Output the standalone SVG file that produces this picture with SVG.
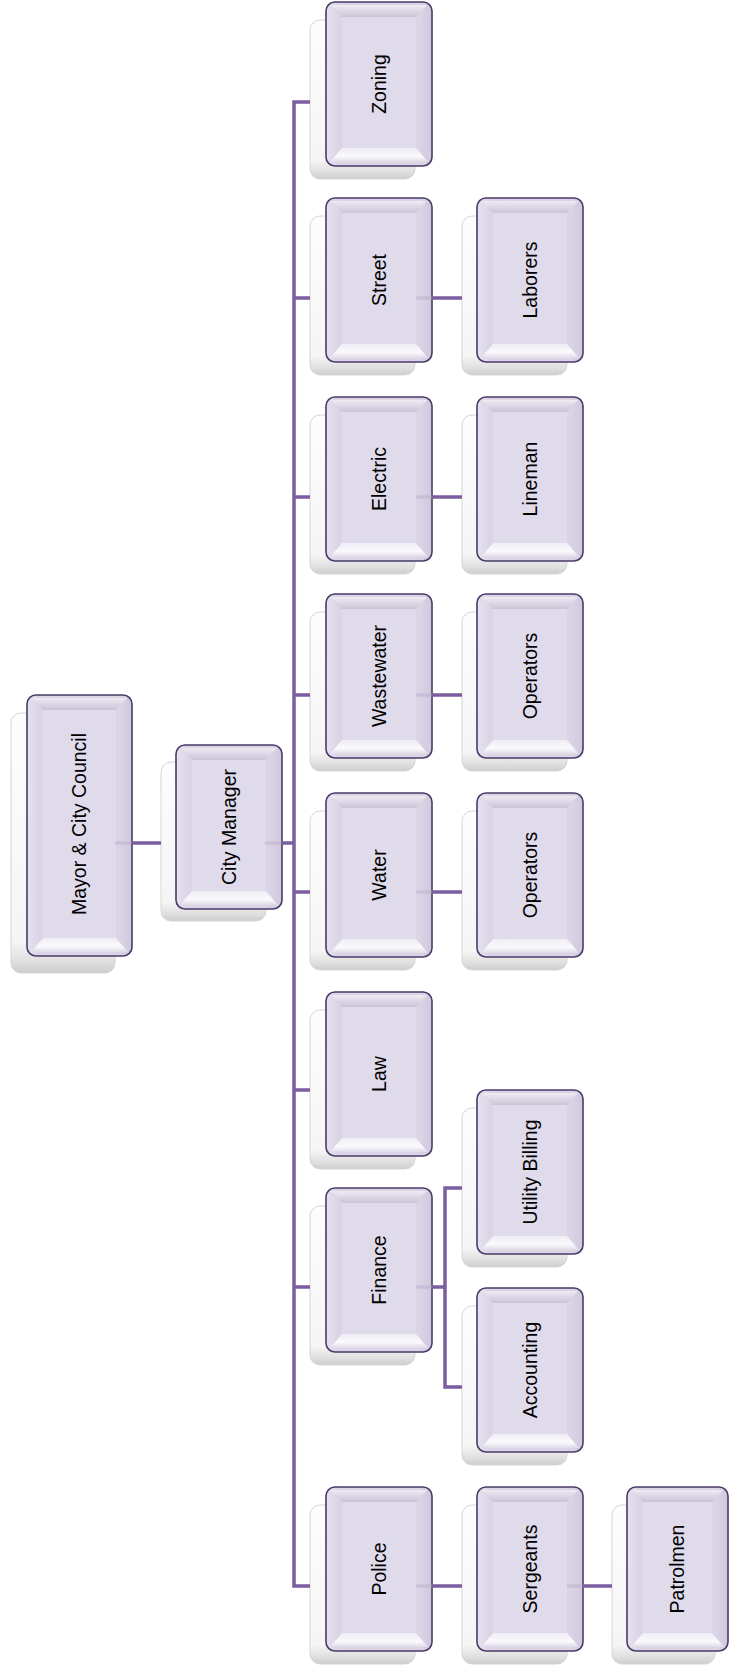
<svg xmlns="http://www.w3.org/2000/svg" xmlns:xlink="http://www.w3.org/1999/xlink" width="730" height="1673" viewBox="0 0 730 1673">
<style>
.lbl{font-family:"Liberation Sans",Arial,sans-serif;font-size:19.5px;fill:#000;text-anchor:middle}
.con{fill:none;stroke:#7b5e9f;stroke-width:3.5;stroke-linejoin:miter;stroke-linecap:butt}
.faint{fill:none;stroke:#b3a5c9;stroke-opacity:0.4;stroke-width:3.5}
.fo{fill:url(#gFront);stroke:#4a3a68;stroke-width:1.6}
.tb{fill:url(#gTop)}
.bb{fill:url(#gBot)}
.fc{fill:#e0dbeb}
.so{fill:url(#gShadow);stroke:#d6d6d6;stroke-width:1}
</style>
<defs>
<linearGradient id="gFront" x1="0" y1="0" x2="1" y2="0">
<stop offset="0" stop-color="#e6e2ee"/><stop offset="0.12" stop-color="#dad4e6"/><stop offset="0.88" stop-color="#dad4e6"/><stop offset="1" stop-color="#d0c9dd"/>
</linearGradient>
<linearGradient id="gTop" x1="0" y1="0" x2="0" y2="1">
<stop offset="0" stop-color="#eeebf3"/><stop offset="1" stop-color="#cac3d6"/>
</linearGradient>
<linearGradient id="gBot" x1="0" y1="0" x2="0" y2="1">
<stop offset="0" stop-color="#efedf5"/><stop offset="0.6" stop-color="#faf9fc"/><stop offset="1" stop-color="#dfdae8"/>
</linearGradient>
<linearGradient id="gShadow" x1="0" y1="0" x2="0" y2="1">
<stop offset="0" stop-color="#fdfdfd"/><stop offset="0.88" stop-color="#f5f5f5"/><stop offset="0.96" stop-color="#dedede"/><stop offset="1" stop-color="#cdcdcd"/>
</linearGradient>
<g id="shadowBox">
<rect class="so" x="0" y="0" width="105" height="159" rx="10"/>
</g>
<g id="frontBox">
<rect class="fo" x="0" y="0" width="106" height="164" rx="9"/>
<polygon class="tb" points="5,3 101,3 90,15 16,15"/>
<polygon class="bb" points="16,146 90,146 102,160 4,160"/>
<rect class="fc" x="16" y="15" width="74" height="131"/>
</g>
</defs>

<g id="mayor">
<rect class="so" x="11" y="713" width="104" height="260" rx="10"/>
<rect class="fo" x="27" y="695" width="105" height="261" rx="9"/>
<polygon class="tb" points="32,698 127,698 116,710 43,710"/>
<polygon class="bb" points="43,938 116,938 128,952 31,952"/>
<rect class="fc" x="43" y="710" width="73" height="228"/>
<text class="lbl" transform="translate(79,824) rotate(-90)" dy="0.35em">Mayor &amp; City Council</text>
</g>

<g id="city-manager">
<use xlink:href="#shadowBox" x="161" y="762"/>
<use xlink:href="#frontBox" x="176" y="745"/>
<text class="lbl" transform="translate(229,827) rotate(-90)" dy="0.35em">City Manager</text>
</g>

<g id="zoning">
<use xlink:href="#shadowBox" x="310" y="20"/>
<use xlink:href="#frontBox" x="326" y="2"/>
<text class="lbl" transform="translate(379,84) rotate(-90)" dy="0.35em">Zoning</text>
</g>
<g id="street">
<use xlink:href="#shadowBox" x="310" y="216"/>
<use xlink:href="#frontBox" x="326" y="198"/>
<text class="lbl" transform="translate(379,280) rotate(-90)" dy="0.35em">Street</text>
</g>
<g id="electric">
<use xlink:href="#shadowBox" x="310" y="415"/>
<use xlink:href="#frontBox" x="326" y="397"/>
<text class="lbl" transform="translate(379,479) rotate(-90)" dy="0.35em">Electric</text>
</g>
<g id="wastewater">
<use xlink:href="#shadowBox" x="310" y="612"/>
<use xlink:href="#frontBox" x="326" y="594"/>
<text class="lbl" transform="translate(379,676) rotate(-90)" dy="0.35em">Wastewater</text>
</g>
<g id="water">
<use xlink:href="#shadowBox" x="310" y="811"/>
<use xlink:href="#frontBox" x="326" y="793"/>
<text class="lbl" transform="translate(379,875) rotate(-90)" dy="0.35em">Water</text>
</g>
<g id="law">
<use xlink:href="#shadowBox" x="310" y="1010"/>
<use xlink:href="#frontBox" x="326" y="992"/>
<text class="lbl" transform="translate(379,1074) rotate(-90)" dy="0.35em">Law</text>
</g>
<g id="finance">
<use xlink:href="#shadowBox" x="310" y="1206"/>
<use xlink:href="#frontBox" x="326" y="1188"/>
<text class="lbl" transform="translate(379,1270) rotate(-90)" dy="0.35em">Finance</text>
</g>
<g id="police">
<use xlink:href="#shadowBox" x="310" y="1505"/>
<use xlink:href="#frontBox" x="326" y="1487"/>
<text class="lbl" transform="translate(379,1569) rotate(-90)" dy="0.35em">Police</text>
</g>

<g id="laborers">
<use xlink:href="#shadowBox" x="462" y="216"/>
<use xlink:href="#frontBox" x="477" y="198"/>
<text class="lbl" transform="translate(530,280) rotate(-90)" dy="0.35em">Laborers</text>
</g>
<g id="lineman">
<use xlink:href="#shadowBox" x="462" y="415"/>
<use xlink:href="#frontBox" x="477" y="397"/>
<text class="lbl" transform="translate(530,479) rotate(-90)" dy="0.35em">Lineman</text>
</g>
<g id="operators-wastewater">
<use xlink:href="#shadowBox" x="462" y="612"/>
<use xlink:href="#frontBox" x="477" y="594"/>
<text class="lbl" transform="translate(530,676) rotate(-90)" dy="0.35em">Operators</text>
</g>
<g id="operators-water">
<use xlink:href="#shadowBox" x="462" y="811"/>
<use xlink:href="#frontBox" x="477" y="793"/>
<text class="lbl" transform="translate(530,875) rotate(-90)" dy="0.35em">Operators</text>
</g>
<g id="utility-billing">
<use xlink:href="#shadowBox" x="462" y="1108"/>
<use xlink:href="#frontBox" x="477" y="1090"/>
<text class="lbl" transform="translate(530,1172) rotate(-90)" dy="0.35em">Utility Billing</text>
</g>
<g id="accounting">
<use xlink:href="#shadowBox" x="462" y="1306"/>
<use xlink:href="#frontBox" x="477" y="1288"/>
<text class="lbl" transform="translate(530,1370) rotate(-90)" dy="0.35em">Accounting</text>
</g>
<g id="sergeants">
<use xlink:href="#shadowBox" x="462" y="1505"/>
<use xlink:href="#frontBox" x="477" y="1487"/>
<text class="lbl" transform="translate(530,1569) rotate(-90)" dy="0.35em">Sergeants</text>
</g>

<g id="patrolmen">
<rect class="so" x="612" y="1505" width="103" height="159" rx="10"/>
<rect class="fo" x="627" y="1487" width="101" height="164" rx="9"/>
<polygon class="tb" points="632,1490 723,1490 712,1502 643,1502"/>
<polygon class="bb" points="643,1633 712,1633 724,1647 631,1647"/>
<rect class="fc" x="643" y="1502" width="69" height="131"/>
<text class="lbl" transform="translate(677,1569) rotate(-90)" dy="0.35em">Patrolmen</text>
</g>

<g id="connectors">
<path class="con" d="M310,102 H294 V1586 H310"/>
<path class="con" d="M294,298 H310 M294,497 H310 M294,695 H310 M294,892 H310 M294,1090 H310 M294,1287 H310"/>
<path class="con" d="M131,843 H161 M281,843 H294"/>
<path class="con" d="M432,298 H462 M432,497 H462 M432,695 H462 M432,892 H462 M432,1586 H462 M583,1586 H612"/>
<path class="con" d="M432,1287 H445 M462,1188 H445 V1387 H462"/>
<path class="faint" d="M115,843 H131 M265,843 H281 M416,298 H432 M416,497 H432 M416,695 H432 M416,892 H432 M416,1287 H432 M416,1586 H432 M567,1586 H583"/>
</g>
</svg>
